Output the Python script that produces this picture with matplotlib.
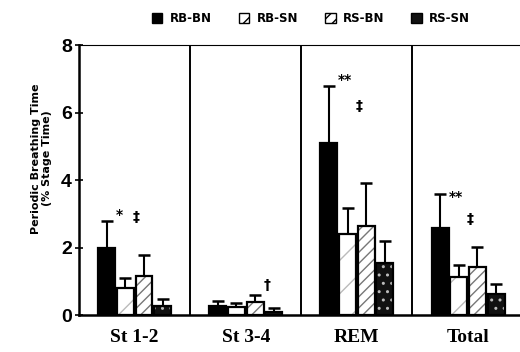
"""
Periodic breathing time (% of stage time) per sleep stage, four conditions.
Saves out.png (520x352).
"""
import matplotlib.pyplot as plt
import numpy as np
from matplotlib.patches import Patch

stages = ["St 1-2", "St 3-4", "REM", "Total"]
conditions = ["RB-BN", "RB-SN", "RS-BN", "RS-SN"]

# mean values (bar tops) per condition, one entry per stage
rb_bn = [2.0, 0.27, 5.1, 2.57]
rb_sn = [0.8, 0.24, 2.4, 1.12]
rs_bn = [1.15, 0.40, 2.63, 1.42]
rs_sn = [0.27, 0.10, 1.55, 0.62]

# upper end of error bars
rb_bn_err = [2.8, 0.42, 6.8, 3.6]
rb_sn_err = [1.1, 0.36, 3.17, 1.48]
rs_bn_err = [1.78, 0.60, 3.91, 2.03]
rs_sn_err = [0.48, 0.20, 2.2, 0.92]

# significance marks: (symbol, stage index, value level)
marks = [
    ("*", 0, 2.95),
    ("‡", 0, 2.9),
    ("†", 1, 0.9),
    ("**", 2, 6.95),
    ("‡", 2, 6.2),
    ("**", 3, 3.5),
    ("‡", 3, 2.85),
]

means = [rb_bn, rb_sn, rs_bn, rs_sn]
tops = [rb_bn_err, rb_sn_err, rs_bn_err, rs_sn_err]

styles = [
    dict(face="black", hatch="", hcol="black", lhatch=""),
    dict(face="white", hatch="/", hcol="#bbbbbb", lhatch="//"),
    dict(face="white", hatch="///", hcol="#777777", lhatch="///"),
    dict(face="#111111", hatch="..", hcol="#bbbbbb", lhatch=""),
]

fig = plt.figure(figsize=(5.2, 3.52), dpi=100)
ax = fig.add_axes([0.152, 0.105, 0.855, 0.767])

x = np.arange(len(stages))
step = 0.168
width = 0.152
for k in range(4):
    xs = x + (k - 1.5) * step
    st = styles[k]
    ax.bar(xs, means[k], width, color=st["face"], edgecolor=st["hcol"],
           hatch=st["hatch"], linewidth=0, zorder=2)
    ax.bar(xs, means[k], width, fill=False, edgecolor="black", linewidth=1.6, zorder=3)
    err = np.array(tops[k]) - np.array(means[k])
    ax.errorbar(xs, means[k], yerr=[np.zeros(4), err], fmt="none", ecolor="black",
                elinewidth=1.5, capsize=4, capthick=1.8, zorder=1)

offs = {"*": -0.14, "**": -0.11, "‡": 0.015, "†": 0.19}
for sym, g, lev in marks:
    ax.text(g + offs[sym], lev, sym, ha="center", va="center", fontsize=10,
            fontweight="bold", family="DejaVu Sans")

for d in [0.5, 1.5, 2.5]:
    ax.axvline(d, color="black", lw=1.4, zorder=0)

ax.set_xlim(-0.5, 3.5)
ax.set_ylim(0, 8)
ax.set_yticks([0, 2, 4, 6, 8])
ax.set_yticklabels(["0", "2", "4", "6", "8"], fontsize=14, fontweight="bold",
                   family="Liberation Sans")
ax.tick_params(axis="y", direction="inout", length=6, width=1.2, pad=2)
ax.set_xticks(x)
ax.set_xticklabels(stages, fontsize=14, fontweight="bold", family="Liberation Serif")
ax.tick_params(axis="x", length=0, pad=10)
for s in ax.spines.values():
    s.set_linewidth(1.8)
ax.spines["top"].set_linewidth(0.8)
ax.spines["right"].set_visible(False)

ax.set_ylabel("Periodic Breathing Time\n(% Stage Time)", fontsize=8,
              fontweight="bold")
ax.yaxis.set_label_coords(-0.06, 0.58)

handles = [Patch(facecolor=st["face"], edgecolor="black", hatch=st["lhatch"])
           for st in styles]
fig.legend(handles, conditions, loc="upper center", bbox_to_anchor=(0.598, 0.995),
           ncol=4, frameon=False, handlelength=0.9, handleheight=0.9,
           columnspacing=2.3, handletextpad=0.6,
           prop=dict(family=["Liberation Sans Narrow", "DejaVu Sans"],
                     weight="bold", size=8.5))

fig.savefig("out.png", dpi=100)
